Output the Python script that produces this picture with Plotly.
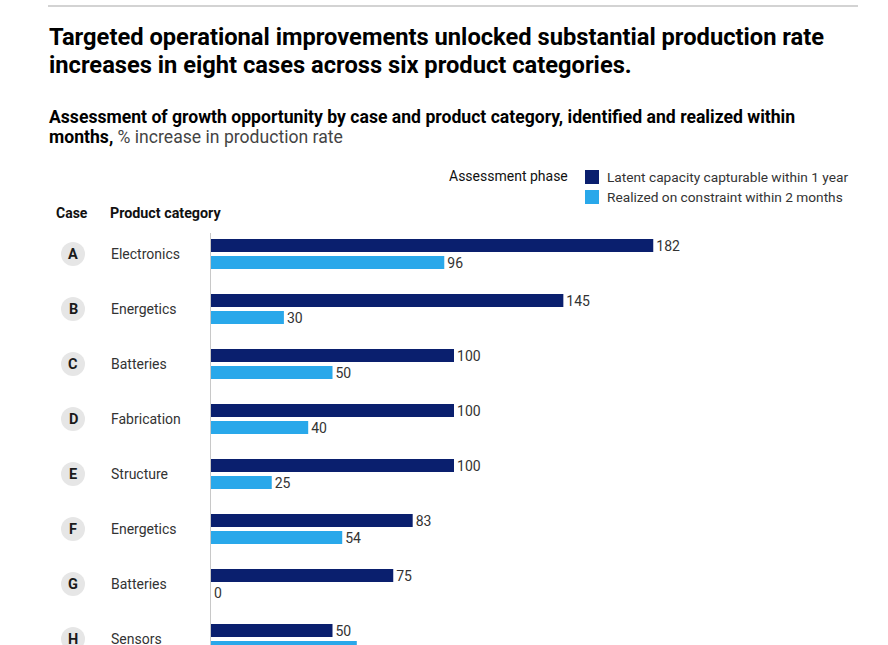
import plotly.graph_objects as go

cases = ["A", "B", "C", "D", "E", "F", "G", "H"]
categories = ["Electronics", "Energetics", "Batteries", "Fabrication", "Structure",
              "Energetics", "Batteries", "Sensors"]
latent = [182, 145, 100, 100, 100, 83, 75, 50]
realized = [96, 30, 50, 40, 25, 54, 0, 60]

DARK = "#0a1f6e"
LIGHT = "#29a8ea"
TXT = "#333333"
FONT = "Roboto"

W, H = 888, 645
L, R, T, B = 211, 30, 233, 0
plot_w = W - L - R
plot_h = H - T - B
PX_PER_UNIT = 2.43
x_max = plot_w / PX_PER_UNIT
ROW_PX = 55.0
row0_px = 254.0
y_top = -(row0_px - T) / ROW_PX
y_bot = y_top + plot_h / ROW_PX

def px2x(px):
    return (px - L) / plot_w

def py2y(py):
    return (H - B - py) / plot_h

off = 8.5 / ROW_PX
bw = 13.0 / ROW_PX
idx = list(range(len(cases)))

fig = go.Figure()
fig.add_trace(go.Bar(
    orientation="h", x=latent, y=[i - off for i in idx], width=bw,
    marker=dict(color=DARK, line=dict(width=0)),
    text=[str(v) for v in latent], textposition="outside",
    textfont=dict(family=FONT, size=14, color=TXT),
    constraintext="none", cliponaxis=False, hoverinfo="skip",
    name="Latent capacity capturable within 1 year", showlegend=False))
fig.add_trace(go.Bar(
    orientation="h", x=realized, y=[i + off for i in idx], width=bw,
    marker=dict(color=LIGHT, line=dict(width=0)),
    text=[str(v) for v in realized], textposition="outside",
    textfont=dict(family=FONT, size=14, color=TXT),
    constraintext="none", cliponaxis=False, hoverinfo="skip",
    name="Realized on constraint within 2 months", showlegend=False))

ann = []
shapes = []
cat_x = px2x(109)
circ_x = px2x(73)
for i, (c, cat) in enumerate(zip(cases, categories)):
    shapes.append(dict(type="circle", xref="paper", yref="y",
                       xsizemode="pixel", ysizemode="pixel",
                       xanchor=circ_x, yanchor=i,
                       x0=-12, x1=12, y0=-12, y1=12,
                       fillcolor="#e6e6e6", line=dict(width=0), layer="below"))
    ann.append(dict(xref="paper", yref="y", x=circ_x, y=i, text="<b>%s</b>" % c,
                    xanchor="center", yanchor="middle", showarrow=False,
                    font=dict(family=FONT, size=14.5, color="#1a1a1a")))
    ann.append(dict(xref="paper", yref="y", x=cat_x, y=i, text=cat,
                    xanchor="left", yanchor="middle", showarrow=False,
                    font=dict(family=FONT, size=14, color=TXT)))

# headers
ann.append(dict(xref="paper", yref="paper", x=px2x(54), y=py2y(213), text="<b>Case</b>",
                xanchor="left", yanchor="middle", showarrow=False,
                font=dict(family=FONT, size=14, color="#111")))
ann.append(dict(xref="paper", yref="paper", x=px2x(108), y=py2y(213), text="<b>Product category</b>",
                xanchor="left", yanchor="middle", showarrow=False,
                font=dict(family=FONT, size=14.3, color="#111")))

# title
for txt, py in [("Targeted operational improvements unlocked substantial production rate", 37),
                ("increases in eight cases across six product categories.", 65)]:
    ann.append(dict(xref="paper", yref="paper", x=px2x(47), y=py2y(py),
                    text="<b>%s</b>" % txt,
                    xanchor="left", yanchor="middle", align="left", showarrow=False,
                    font=dict(family=FONT, size=23.7, color="#000")))
# subtitle
for txt, py in [("<b>Assessment of growth opportunity by case and product category, identified and realized within</b>", 117),
                ("<b>months,</b> <span style='color:#444'>% increase in production rate</span>", 137)]:
    ann.append(dict(xref="paper", yref="paper", x=px2x(47), y=py2y(py),
                    text=txt,
                    xanchor="left", yanchor="middle", align="left", showarrow=False,
                    font=dict(family=FONT, size=17.6, color="#000")))

# legend
ann.append(dict(xref="paper", yref="paper", x=px2x(447), y=py2y(176), text="Assessment phase",
                xanchor="left", yanchor="middle", showarrow=False,
                font=dict(family=FONT, size=14, color="#111")))
ann.append(dict(xref="paper", yref="paper", x=px2x(605), y=py2y(177),
                text="Latent capacity capturable within 1 year",
                xanchor="left", yanchor="middle", showarrow=False,
                font=dict(family=FONT, size=13.7, color=TXT)))
ann.append(dict(xref="paper", yref="paper", x=px2x(605), y=py2y(197),
                text="Realized on constraint within 2 months",
                xanchor="left", yanchor="middle", showarrow=False,
                font=dict(family=FONT, size=13.7, color=TXT)))

shapes += [
    dict(type="rect", xref="paper", yref="paper", x0=px2x(585), x1=px2x(599),
         y0=py2y(184), y1=py2y(170), fillcolor=DARK, line=dict(width=0)),
    dict(type="rect", xref="paper", yref="paper", x0=px2x(585), x1=px2x(599),
         y0=py2y(204), y1=py2y(190), fillcolor=LIGHT, line=dict(width=0)),
    dict(type="line", xref="paper", yref="paper", x0=px2x(48), x1=px2x(858),
         y0=py2y(6), y1=py2y(6), line=dict(color="#c4c4c4", width=1.5)),
]

fig.update_layout(
    width=W, height=H, margin=dict(l=L, r=R, t=T, b=B, pad=0),
    paper_bgcolor="white", plot_bgcolor="white",
    barmode="overlay", showlegend=False,
    xaxis=dict(range=[0, x_max], visible=False, fixedrange=True),
    yaxis=dict(range=[y_bot, y_top], showticklabels=False, showgrid=False,
               zeroline=False, showline=True, linecolor="#c8c8c8", linewidth=1,
               ticks="", fixedrange=True),
    annotations=ann, shapes=shapes,
    font=dict(family=FONT),
)

fig.write_html("out.html")
